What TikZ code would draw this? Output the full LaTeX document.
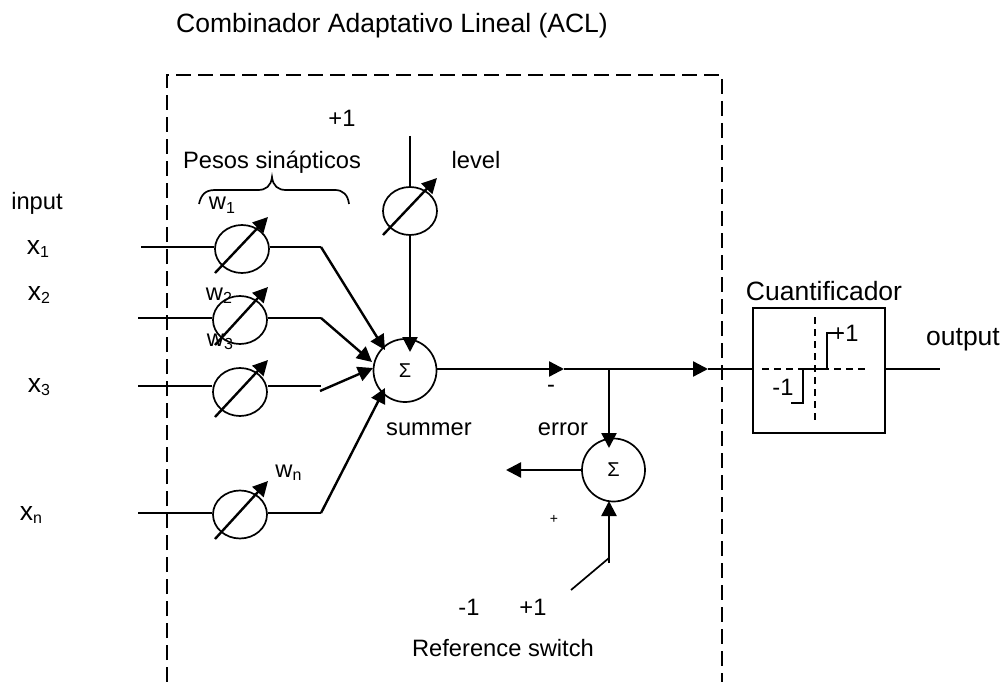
\documentclass[tikz,border=0pt]{standalone}
\usepackage{fontspec}
\setmainfont{Liberation Sans}
\usetikzlibrary{arrows.meta,shapes.geometric}
\newcommand{\sbs}[1]{\raisebox{-3.5pt}{\fontsize{16}{16}\selectfont #1}}
\tikzset{
  wire/.style={line width=1.7pt},
  bold/.style={line width=2.4pt},
  head/.style={bold,-{Triangle[length=15pt,width=15pt]}},
  weight/.style={draw,line width=1.7pt,ellipse,minimum width=54pt,minimum height=48pt,inner sep=0pt},
  sum/.style={draw,line width=1.7pt,circle,minimum size=63pt,inner sep=0pt,font=\fontsize{20}{20}\selectfont},
  label/.style={inner sep=0pt,anchor=base,font=\fontsize{23.7}{26}\selectfont},
  big/.style={inner sep=0pt,anchor=base,font=\fontsize{26.5}{28}\selectfont},
  bdash/.style={line width=1.5pt,dash pattern=on 15pt off 7pt},
  qdash/.style={line width=1.3pt,dash pattern=on 7pt off 5pt}
}
\begin{document}
\begin{tikzpicture}[x=1pt,y=-1pt]
\useasboundingbox (0,0) rectangle (1002,682);
% dashed frame
\coordinate (fbl) at (167,682);
\coordinate (ftl) at (167,75);
\coordinate (ftr) at (722,75);
\coordinate (fbr) at (722,682);
\draw[bdash] (fbl) -- (ftl) -- (ftr) -- (fbr);
% title
\node[big] (title) at (392,33) {Combinador Adaptativo Lineal (ACL)};
% weights
\node[weight] (w1) at (242,249) {};
\node[weight] (w2) at (240,320) {};
\node[weight] (w3) at (240,392) {};
\node[weight] (wn) at (240,514.5) {};
\node[weight] (wl) at (410,211) {};
% weight arrows
\foreach \c/\ax/\ay/\bx/\by in {w1/215/273/268/217,w2/215/345/268/287,w3/215/417/268/360,wn/215/539/268/481,wl/383/235/437/178}{
  \coordinate (\c s) at (\ax,\ay);
  \coordinate (\c e) at (\bx,\by);
  \draw[head] (\c s) -- (\c e);
}
% summers
\node[sum] (s1) at (405,370.5) {Σ};
\node[sum] (s2) at (613.5,470) {Σ};
% input wires
\coordinate (i1) at (141,247);
\coordinate (i2) at (138,318);
\coordinate (i3) at (138,386);
\coordinate (in) at (138,513);
\coordinate (k1) at (321,247);
\coordinate (k2) at (321,318);
\coordinate (k3) at (321,386);
\coordinate (kn) at (321,513);
\coordinate (k3b) at (320,391);
\coordinate (t1) at (385,350);
\coordinate (t2) at (372,362);
\coordinate (t3) at (373,368);
\coordinate (tn) at (385,388);
\draw[wire] (i1) -- (i1 -| w1.west);
\draw[wire] (i2) -- (i2 -| w2.west);
\draw[wire] (i3) -- (i3 -| w3.west);
\draw[wire] (in) -- (in -| wn.west);
\draw[wire] (k1 -| w1.east) -- (k1);
\draw[wire] (k2 -| w2.east) -- (k2);
\draw[wire] (k3 -| w3.east) -- (k3);
\draw[wire] (kn -| wn.east) -- (kn);
\draw[head] (k1) -- (t1);
\draw[head] (k2) -- (t2);
\draw[head] (k3b) -- (t3);
\draw[head] (kn) -- (tn);
% level line
\coordinate (ltop) at (410,136);
\coordinate (lt) at (410,352);
\draw[wire] (ltop) -- (wl.north);
\draw[head] (wl.south) -- (lt);
% main output
\coordinate (m1) at (564,369);
\coordinate (m2) at (708,369);
\coordinate (j) at (609,369);
\coordinate (e1) at (609,448);
\coordinate (e2) at (506,470);
\coordinate (r1) at (609,501);
\coordinate (r2) at (609,563);
\coordinate (r3) at (571,590);
\draw[head] (m1 -| s1.east) -- (m1);
\draw[head] (m1) -- (m2);
\draw[head] (j) -- (e1);
\draw[head] (s2.west) -- (e2);
\draw[head] (r2) -- (r1);
\draw[wire] (r3) -- (609,558);
% quantizer
\node[draw,line width=1.7pt,minimum width=132pt,minimum height=125pt,inner sep=0pt] (q) at (819,370.5) {};
\coordinate (out) at (940,369);
\draw[wire] (m2) -- (m2 -| q.west);
\draw[wire] (out -| q.east) -- (out);
\coordinate (qh1) at (762,369);
\coordinate (qh2) at (868,369);
\coordinate (qv1) at (815,317);
\coordinate (qv2) at (815,423);
\draw[qdash] (qh1) -- (qh2);
\draw[qdash] (qv1) -- (qv2);
\coordinate (p1) at (803,369);
\coordinate (p2) at (803,403);
\coordinate (p3) at (791,403);
\coordinate (p4) at (827,369);
\coordinate (p5) at (827,333);
\coordinate (p6) at (843,333);
\draw[wire] (p3) -- (p2) -- (p1) -- (p4) -- (p5) -- (p6);
% brace
\coordinate (bl) at (199,204);
\coordinate (br) at (349,204);
\coordinate (bt) at (272,177);
\draw[wire] (bl) .. controls (201,195) and (205,190) .. (215,190) -- (258,190) .. controls (266,190) and (271,186) .. (bt) .. controls (273,186) and (278,190) .. (286,190) -- (335,190) .. controls (343,190) and (348,195) .. (br);
% labels
\node[label] (lplus) at (342,127) {+1};
\node[label] (lpesos) at (272,168) {Pesos sinápticos};
\node[label] (linput) at (37,210) {input};
\node[big] (lx1) at (38,254) {x\sbs{1}};
\node[big] (lx2) at (39,300) {x\sbs{2}};
\node[big] (lx3) at (39,392) {x\sbs{3}};
\node[big] (lxn) at (31,520) {x\sbs{n}};
\node[label] (lw1) at (222,210) {w\sbs{1}};
\node[label] (lw2) at (219,300) {w\sbs{2}};
\node[label] (lw3) at (220,346) {w\sbs{3}};
\node[label] (lwn) at (288.5,477) {w\sbs{n}};
\node[label] (llevel) at (476,168) {level};
\node[label] (lsummer) at (429,435) {summer};
\node[label] (lerror) at (563,435) {error};
\node[label] (lminus) at (551,392) {-};
\node[inner sep=0pt,font=\fontsize{14}{14}\selectfont] (lplus2) at (554,519) {+};
\node[label] (lm1) at (469,615) {-1};
\node[label] (lp1) at (533,615) {+1};
\node[label] (lref) at (503,656) {Reference switch};
\node[big] (lcuant) at (824,300) {Cuantificador};
\node[big] (loutput) at (963,345) {output};
\node[label] (qp1) at (845,341) {+1};
\node[label] (qm1) at (783,395) {-1};
\end{tikzpicture}
\end{document}
